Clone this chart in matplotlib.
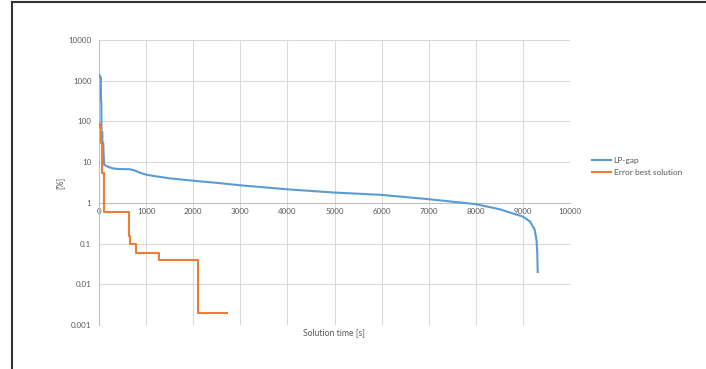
import numpy as np
import matplotlib
matplotlib.use('Agg')
import matplotlib.pyplot as plt
from matplotlib.lines import Line2D

plt.rcParams['font.family'] = ['Lato', 'DejaVu Sans']

# LP-gap over the solve, in percent
lp_time = [0, 20, 40, 42, 50, 52, 70, 72, 90, 100, 110, 200, 300, 400, 650, 750, 870,
           1010, 1200, 1500, 2000, 2500, 3000, 4000, 5000, 6000, 7000, 8000, 8500,
           9000, 9150, 9250, 9290, 9305, 9314]
lp_gap = [1400, 1300, 1200, 300, 300, 55, 55, 30, 30, 14, 8.6, 7.6, 7.0, 6.8, 6.7, 6.3, 5.5,
          4.9, 4.5, 4.0, 3.5, 3.1, 2.7, 2.15, 1.79, 1.57, 1.23, 0.93, 0.70,
          0.46, 0.35, 0.22, 0.12, 0.06, 0.02]

# error of the incumbent, piecewise constant
err_time = [0, 20, 40, 55, 115, 637, 650, 785, 1280, 2110, 2710]
err_val = [88, 72, 29, 5.3, 0.6, 0.15, 0.1, 0.058, 0.04, 0.002, 0.002]

x_ticks = list(range(0, 10001, 1000))
y_ticks = [0.001, 0.01, 0.1, 1, 10, 100, 1000, 10000]
y_tick_labels = ['0.001', '0.01', '0.1', '1', '10', '100', '1000', '10000']

blue = '#5B9BD5'
orange = '#ED7D31'
grid_col = '#D9D9D9'
txt_col = '#595959'

fig = plt.figure(figsize=(7.06, 3.69), dpi=100)
ax = fig.add_axes([99 / 706, 44 / 369, 471 / 706, 285 / 369])

ax.plot(lp_time, lp_gap, color=blue, lw=1.5, label='LP-gap')
ax.step(err_time, err_val, where='post', color=orange, lw=1.5,
        label='Error best solution')

ax.set_yscale('log')
ax.set_xlim(0, 10000)
ax.set_ylim(0.001, 10000)
ax.set_xticks(x_ticks)
ax.set_xticklabels([str(t) for t in x_ticks])
ax.set_yticks(y_ticks)
ax.set_yticklabels(y_tick_labels)
ax.yaxis.set_minor_locator(matplotlib.ticker.NullLocator())

ax.grid(True, color=grid_col, lw=0.75)
ax.set_axisbelow(True)

# category axis crosses at 1 %
ax.spines['bottom'].set_position(('data', 1))
ax.spines['bottom'].set_color('#BFBFBF')
ax.spines['left'].set_color('#BFBFBF')
ax.spines['top'].set_visible(False)
ax.spines['right'].set_visible(False)
for sp in ('bottom', 'left'):
    ax.spines[sp].set_linewidth(0.75)
    ax.spines[sp].set_zorder(1)

ax.tick_params(axis='both', length=0, labelsize=5.8, colors=txt_col)
ax.tick_params(axis='x', pad=4)
ax.tick_params(axis='y', pad=5.5)

fig.text(334 / 706, 1 - 333 / 369, 'Solution time [s]', ha='center', va='center',
         fontsize=6.2, color=txt_col)
fig.text(60 / 706, 1 - 183 / 369, '[%]', ha='center', va='center', rotation=90,
         fontsize=6.2, color=txt_col)

fig.legend(loc='upper left', bbox_to_anchor=(592 / 706, 1 - 157 / 369),
           frameon=False, fontsize=6, handlelength=2.3, handletextpad=0.3,
           labelspacing=0.6, borderaxespad=0, borderpad=0, labelcolor=txt_col)

# frame edges along the left and top
fig.add_artist(Line2D([11.5 / 706, 11.5 / 706], [0, 1 - 1.5 / 369],
                      color='#333333', lw=1.5, transform=fig.transFigure))
fig.add_artist(Line2D([11.5 / 706, 1], [1 - 1.5 / 369, 1 - 1.5 / 369],
                      color='#333333', lw=1.5, transform=fig.transFigure))

fig.savefig('out.png', dpi=100)
